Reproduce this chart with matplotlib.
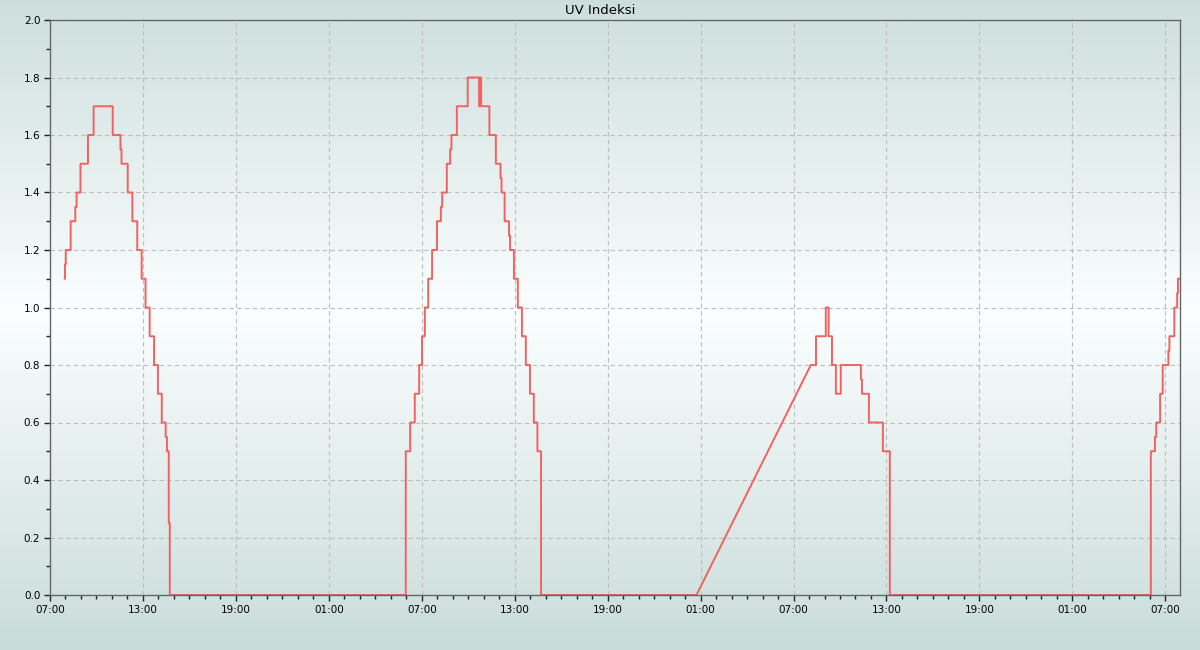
import matplotlib
matplotlib.use("Agg")
import matplotlib.pyplot as plt
import matplotlib.dates as mdates
from matplotlib.colors import LinearSegmentedColormap
import numpy as np
import pandas as pd

# UV index change points: the value holds until the next time stamp
times = [
    "2024-02-12 07:57", "2024-02-12 07:58", "2024-02-12 08:01", "2024-02-12 08:20",
    "2024-02-12 08:38", "2024-02-12 08:43", "2024-02-12 08:58", "2024-02-12 09:27",
    "2024-02-12 09:49", "2024-02-12 11:03", "2024-02-12 11:33", "2024-02-12 11:37",
    "2024-02-12 12:01", "2024-02-12 12:19", "2024-02-12 12:38", "2024-02-12 12:55",
    "2024-02-12 13:10", "2024-02-12 13:26", "2024-02-12 13:43", "2024-02-12 13:58",
    "2024-02-12 14:13", "2024-02-12 14:28", "2024-02-12 14:33", "2024-02-12 14:40",
    "2024-02-12 14:44",
    "2024-02-13 05:58", "2024-02-13 06:15", "2024-02-13 06:33", "2024-02-13 06:50",
    "2024-02-13 07:01", "2024-02-13 07:12", "2024-02-13 07:25", "2024-02-13 07:40",
    "2024-02-13 07:59", "2024-02-13 08:14", "2024-02-13 08:19", "2024-02-13 08:37",
    "2024-02-13 08:50", "2024-02-13 08:55", "2024-02-13 09:16", "2024-02-13 09:58",
    "2024-02-13 10:42", "2024-02-13 10:46", "2024-02-13 10:50", "2024-02-13 11:22",
    "2024-02-13 11:47", "2024-02-13 12:05", "2024-02-13 12:09", "2024-02-13 12:21",
    "2024-02-13 12:38", "2024-02-13 12:42", "2024-02-13 12:57", "2024-02-13 13:12",
    "2024-02-13 13:28", "2024-02-13 13:43", "2024-02-13 13:59", "2024-02-13 14:14",
    "2024-02-13 14:28", "2024-02-13 14:42",
    "2024-02-14 00:44", "2024-02-14 08:07", "2024-02-14 08:27", "2024-02-14 09:05",
    "2024-02-14 09:16", "2024-02-14 09:29", "2024-02-14 09:44", "2024-02-14 10:03",
    "2024-02-14 11:21", "2024-02-14 11:25", "2024-02-14 11:52", "2024-02-14 12:46",
    "2024-02-14 13:13",
    "2024-02-15 06:04", "2024-02-15 06:20", "2024-02-15 06:25", "2024-02-15 06:40",
    "2024-02-15 06:50", "2024-02-15 07:12", "2024-02-15 07:16", "2024-02-15 07:35",
    "2024-02-15 07:46", "2024-02-15 07:49", "2024-02-15 07:57",
]
uv = [
    1.10, 1.15, 1.20, 1.30, 1.35, 1.40, 1.50, 1.60, 1.70, 1.60, 1.55, 1.50,
    1.40, 1.30, 1.20, 1.10, 1.00, 0.90, 0.80, 0.70, 0.60, 0.55, 0.50, 0.25, 0.00,
    0.50, 0.60, 0.70, 0.80, 0.90, 1.00, 1.10, 1.20, 1.30, 1.35, 1.40, 1.50,
    1.55, 1.60, 1.70, 1.80, 1.70, 1.80, 1.70, 1.60, 1.50, 1.45, 1.40, 1.30,
    1.25, 1.20, 1.10, 1.00, 0.90, 0.80, 0.70, 0.60, 0.50, 0.00,
    0.00, 0.80, 0.90, 1.00, 0.90, 0.80, 0.70, 0.80, 0.75, 0.70, 0.60, 0.50, 0.00,
    0.50, 0.55, 0.60, 0.70, 0.80, 0.85, 0.90, 1.00, 1.05, 1.10, 1.10,
]
gap_time = "2024-02-14 08:07"  # no data before this point -> straight line
x_start, x_end = "2024-02-12 07:00", "2024-02-15 07:57"

t = pd.to_datetime(times)
gap_i = list(t).index(pd.Timestamp(gap_time))
xs, ys = [t[0]], [uv[0]]
for i in range(1, len(t)):
    if i != gap_i:
        xs.append(t[i])
        ys.append(uv[i - 1])
    xs.append(t[i])
    ys.append(uv[i])

fig = plt.figure(figsize=(12, 6.5), dpi=100)

# background gradient over the whole figure
bg = fig.add_axes([0, 0, 1, 1], zorder=-1)
yy = np.linspace(0, 1, 400)
grad = np.abs(yy - 0.52) / 0.52
cmap = LinearSegmentedColormap.from_list("bg", ["#fbfefe", "#c9dcda"])
bg.imshow(grad[:, None], aspect="auto", cmap=cmap, origin="lower",
          extent=[0, 1, 0, 1], vmin=0, vmax=1)
bg.axis("off")

ax = fig.add_axes([50 / 1200, 55 / 650, 1130 / 1200, 575 / 650])
ax.set_facecolor("none")
ax.plot(xs, ys, color="#f26262", lw=1.4)

ax.set_xlim(pd.Timestamp(x_start), pd.Timestamp(x_end))
ax.set_ylim(0, 2.0)
ax.xaxis.set_major_locator(mdates.HourLocator(byhour=[1, 7, 13, 19]))
ax.xaxis.set_minor_locator(mdates.HourLocator())
ax.xaxis.set_major_formatter(mdates.DateFormatter("%H:%M"))
ax.set_yticks(np.arange(0, 2.01, 0.2))
ax.set_yticks(np.arange(0.1, 2.0, 0.2), minor=True)
ax.yaxis.set_major_formatter(matplotlib.ticker.FormatStrFormatter("%.1f"))

ax.grid(True, which="major", color="#bdbdbd", linestyle=(0, (4, 3)), lw=0.8)
ax.tick_params(which="major", length=4, width=1, color="#222222", labelsize=7.5, pad=3)
ax.tick_params(which="minor", length=3, width=1, color="#222222")
for s in ax.spines.values():
    s.set_color("#666666")
    s.set_linewidth(1)

fig.text(0.5, 1 - 11 / 650, "UV Indeksi", ha="center", va="center", fontsize=9.5)

fig.savefig("out.png", dpi=100)
